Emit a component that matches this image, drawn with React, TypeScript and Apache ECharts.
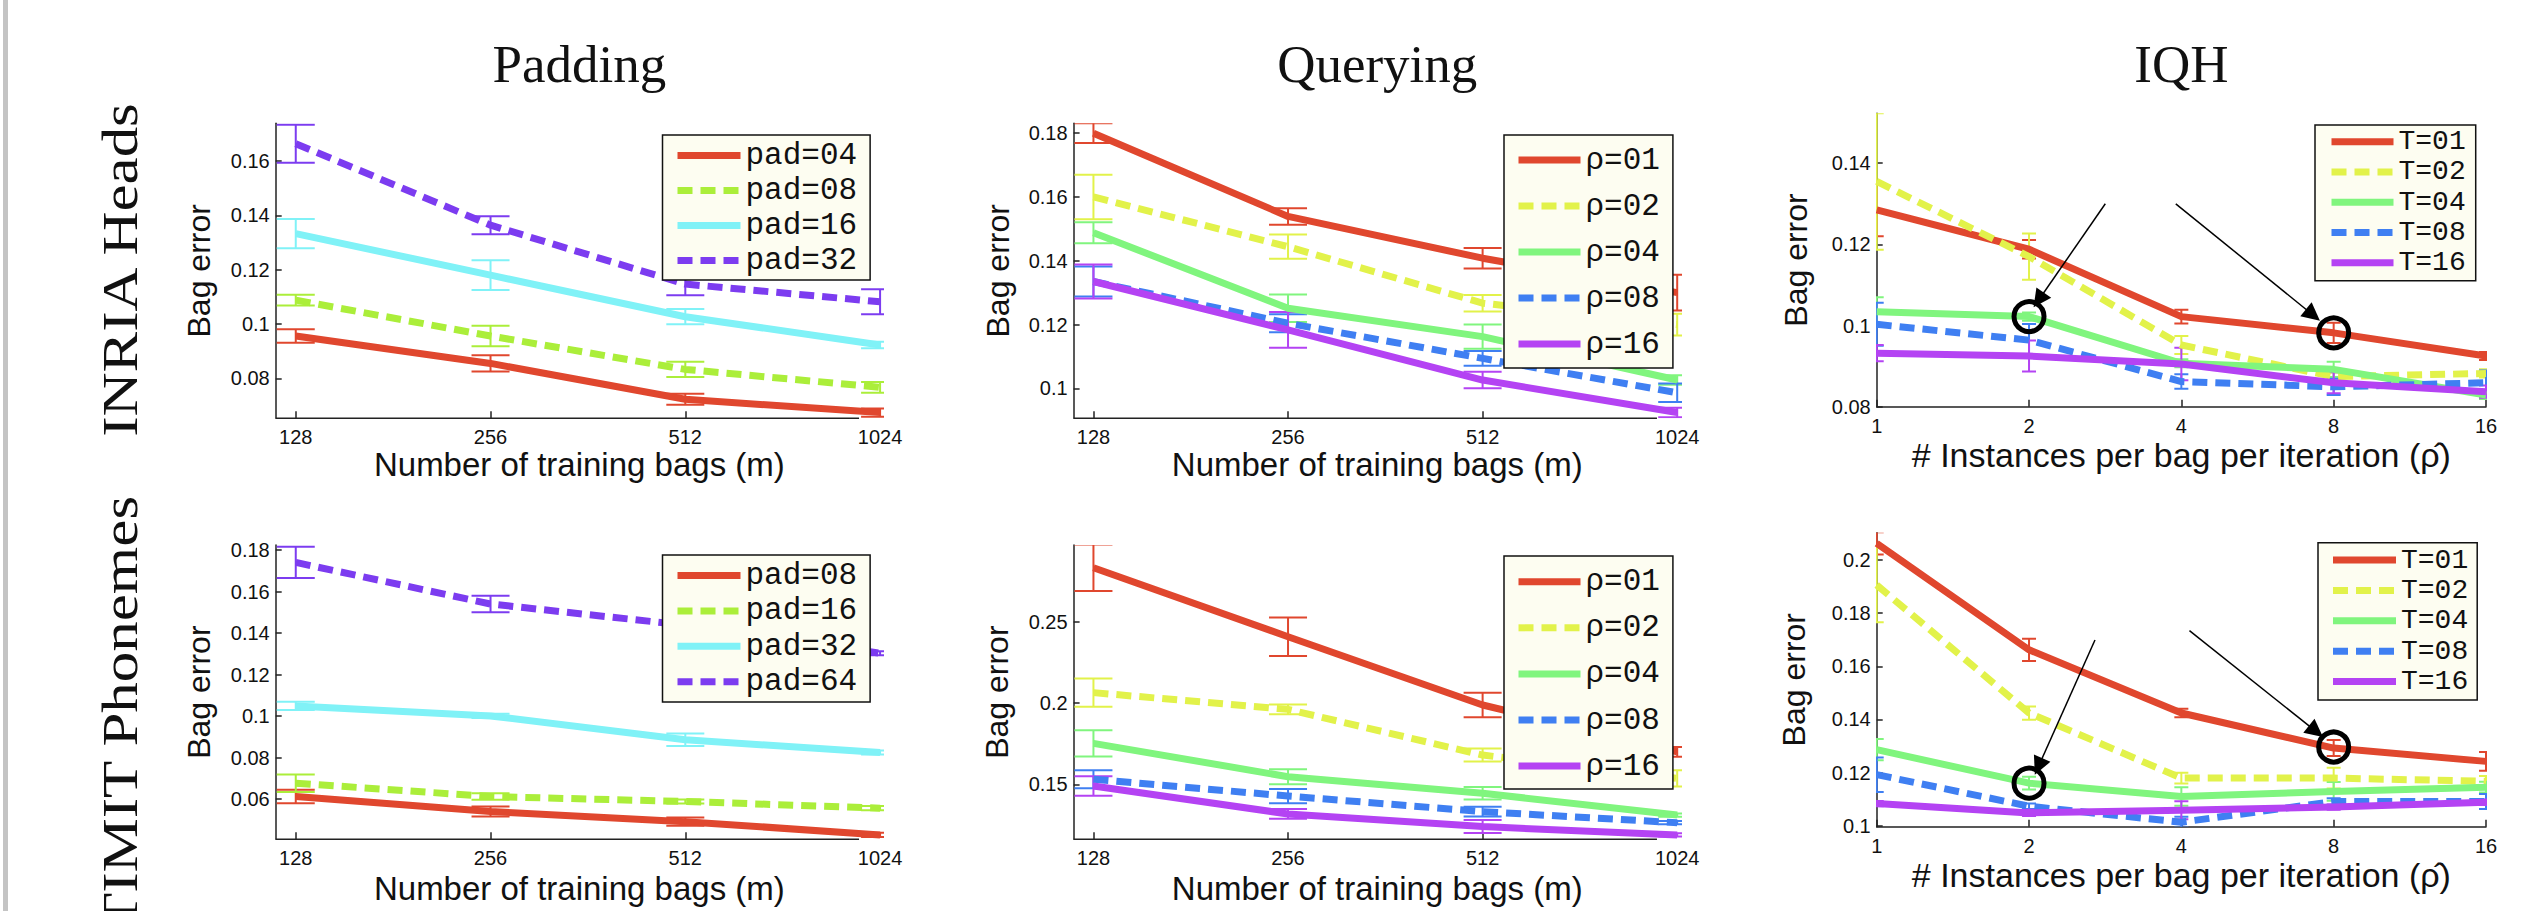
import React, { useEffect, useRef } from 'react';
import * as echarts from 'echarts';

// ---------------- x categories ----------------
const M_VALUES = [128, 256, 512, 1024];
const RHO_HAT_VALUES = [1, 2, 4, 8, 16];

// ---------------- Padding / INRIA Heads ----------------
const PAD_INRIA_NAMES = ['pad=04', 'pad=08', 'pad=16', 'pad=32'];
const PAD_INRIA_MEAN = [
  [0.0956, 0.0855, 0.0723, 0.0674],
  [0.1088, 0.0956, 0.0833, 0.0767],
  [0.1333, 0.118, 0.1027, 0.0923],
  [0.1664, 0.1364, 0.1147, 0.1082],
];
const PAD_INRIA_ERR = [
  [0.0025, 0.003, 0.002, 0.0015],
  [0.002, 0.0038, 0.0028, 0.002],
  [0.0054, 0.0055, 0.0028, 0.0012],
  [0.007, 0.0033, 0.0041, 0.0046],
];
const PAD_INRIA_YTICKS = [0.08, 0.1, 0.12, 0.14, 0.16];

// ---------------- Querying / INRIA Heads ----------------
const QRY_INRIA_NAMES = ['ρ=01', 'ρ=02', 'ρ=04', 'ρ=08', 'ρ=16'];
const QRY_INRIA_MEAN = [
  [0.18, 0.1539, 0.1408, 0.13],
  [0.16, 0.1444, 0.1267, 0.12],
  [0.1488, 0.1251, 0.1162, 0.1026],
  [0.1335, 0.1204, 0.1094, 0.0986],
  [0.1335, 0.1183, 0.1026, 0.0924],
];
const QRY_INRIA_ERR = [
  [0.0031, 0.0026, 0.0032, 0.0056],
  [0.007, 0.0038, 0.0026, 0.0034],
  [0.0033, 0.0043, 0.0038, 0.0015],
  [0.0047, 0.0028, 0.0023, 0.0029],
  [0.0053, 0.0056, 0.0026, 0.0015],
];
const QRY_INRIA_YTICKS = [0.1, 0.12, 0.14, 0.16, 0.18];

// ---------------- IQH / INRIA Heads ----------------
const IQH_INRIA_NAMES = ['T=01', 'T=02', 'T=04', 'T=08', 'T=16'];
const IQH_INRIA_MEAN = [
  [0.1285, 0.1188, 0.1022, 0.0982, 0.0925],
  [0.1355, 0.117, 0.0952, 0.0874, 0.0882],
  [0.1034, 0.1022, 0.0907, 0.0892, 0.0829],
  [0.1003, 0.0964, 0.0862, 0.0849, 0.0859],
  [0.0932, 0.0925, 0.0905, 0.0859, 0.0837],
];
const IQH_INRIA_ERR = [
  [0.0065, 0.0023, 0.0017, 0.0025, 0.001],
  [0.0168, 0.0057, 0.0022, 0.001, 0.001],
  [0.0036, 0.001, 0.001, 0.0019, 0.001],
  [0.0053, 0.004, 0.0018, 0.002, 0.003],
  [0.002, 0.0038, 0.004, 0.0026, 0.0015],
];
const IQH_INRIA_YTICKS = [0.08, 0.1, 0.12, 0.14];
const IQH_INRIA_CIRCLES = [[2, 0.1022], [8, 0.0982]];
const IQH_INRIA_ARROWS = [
  [[2.83, 0.13], [2.09, 0.1063]],
  [[3.9, 0.13], [7.28, 0.1026]],
];

// ---------------- Padding / TIMIT Phonemes ----------------
const PAD_TIMIT_NAMES = ['pad=08', 'pad=16', 'pad=32', 'pad=64'];
const PAD_TIMIT_MEAN = [
  [0.0613, 0.0541, 0.0492, 0.0428],
  [0.0677, 0.0613, 0.0589, 0.0557],
  [0.1049, 0.1001, 0.0886, 0.0825],
  [0.174, 0.154, 0.1438, 0.1303],
];
const PAD_TIMIT_ERR = [
  [0.0033, 0.0024, 0.002, 0.001],
  [0.0042, 0.0016, 0.001, 0.001],
  [0.002, 0.001, 0.003, 0.001],
  [0.0075, 0.004, 0.003, 0.001],
];
const PAD_TIMIT_YTICKS = [0.06, 0.08, 0.1, 0.12, 0.14, 0.16, 0.18];

// ---------------- Querying / TIMIT Phonemes ----------------
const QRY_TIMIT_NAMES = ['ρ=01', 'ρ=02', 'ρ=04', 'ρ=08', 'ρ=16'];
const QRY_TIMIT_MEAN = [
  [0.2832, 0.2408, 0.1988, 0.17],
  [0.2064, 0.1961, 0.168, 0.1537],
  [0.1752, 0.1547, 0.1445, 0.1311],
  [0.1531, 0.1428, 0.1332, 0.1264],
  [0.149, 0.1318, 0.124, 0.1189],
];
const QRY_TIMIT_ERR = [
  [0.0143, 0.0118, 0.0075, 0.003],
  [0.0087, 0.003, 0.004, 0.005],
  [0.008, 0.0046, 0.0038, 0.001],
  [0.0055, 0.0044, 0.003, 0.001],
  [0.006, 0.003, 0.004, 0.001],
];
const QRY_TIMIT_YTICKS = [0.15, 0.2, 0.25];

// ---------------- IQH / TIMIT Phonemes ----------------
const IQH_TIMIT_NAMES = ['T=01', 'T=02', 'T=04', 'T=08', 'T=16'];
const IQH_TIMIT_MEAN = [
  [0.2063, 0.1662, 0.1424, 0.1292, 0.1242],
  [0.1906, 0.1424, 0.1179, 0.1179, 0.1167],
  [0.1286, 0.116, 0.111, 0.1129, 0.1145],
  [0.1192, 0.1073, 0.1013, 0.1091, 0.1091],
  [0.1083, 0.1048, 0.1058, 0.107, 0.1088],
];
const IQH_TIMIT_ERR = [
  [0.0042, 0.0042, 0.0016, 0.003, 0.0035],
  [0.014, 0.0025, 0.002, 0.0039, 0.002],
  [0.004, 0.0024, 0.0035, 0.0035, 0.002],
  [0.0065, 0.001, 0.002, 0.0012, 0.0028],
  [0.001, 0.0012, 0.0034, 0.001, 0.001],
];
const IQH_TIMIT_YTICKS = [0.1, 0.12, 0.14, 0.16, 0.18, 0.2];
const IQH_TIMIT_CIRCLES = [[2, 0.116], [8, 0.1296]];
const IQH_TIMIT_ARROWS = [
  [[2.7, 0.1699], [2.088, 0.1223]],
  [[4.15, 0.1734], [7.38, 0.1355]],
];

// ---------------- text ----------------
const COLUMN_TITLES = ['Padding', 'Querying', 'IQH'];
const ROW_TITLES = ['INRIA Heads', 'TIMIT Phonemes'];
const X_NAME_M = 'Number of training bags (m)';
const X_NAME_RHO = '# Instances per bag per iteration (\u03C1\u0302)';
const Y_NAME = 'Bag error';

// ---------------- styles ----------------
const RED = '#e0472e';
const LIME = '#abee3a';
const CYAN = '#80f2f7';
const VIOLET = '#7c3cf0';
const YELLOW = '#e2f24a';
const GREEN = '#80f57e';
const BLUE = '#3f7ff2';
const PURPLE = '#b443f3';
const AXIS = '#222222';
const SANS = '"Liberation Sans", Arial, Helvetica, sans-serif';
const SERIF = '"Liberation Serif", "Times New Roman", serif';
const MONO = '"Liberation Mono", "Courier New", monospace';
const DASH = [15, 8];

const PAD_STYLE = [
  { color: RED, dashed: false },
  { color: LIME, dashed: true },
  { color: CYAN, dashed: false },
  { color: VIOLET, dashed: true },
];
const FIVE_STYLE = [
  { color: RED, dashed: false },
  { color: YELLOW, dashed: true },
  { color: GREEN, dashed: false },
  { color: BLUE, dashed: true },
  { color: PURPLE, dashed: false },
];

const log2 = (v: number) => Math.log(v) / Math.LN2;

type Panel = {
  key: string;
  left: number; top: number; width: number; height: number;
  xMin: number; xMax: number; xAxisEnd: number | null;
  xValues: number[]; xTickValues: number[];
  yMin: number; yMax: number; yTicks: number[];
  names: string[]; means: number[][]; errs: number[][];
  styles: { color: string; dashed: boolean }[];
  cap: number;
  xName: string; xNameSize: number; xNameGap: number; yNameGap: number;
  legend: { left: number; top: number; padding: number[]; fontSize: number; lineHeight: number; itemGap: number; itemWidth: number };
  circles?: number[][]; arrows?: number[][][];
};

const PANELS: Panel[] = [
  {
    key: 'a', left: 275.7, top: 123.3, width: 607.3, height: 295,
    xMin: 6.897, xMax: 10.015, xAxisEnd: 9.892,
    xValues: M_VALUES, xTickValues: M_VALUES.slice(0, 3),
    yMin: 0.0653, yMax: 0.1739, yTicks: PAD_INRIA_YTICKS,
    names: PAD_INRIA_NAMES, means: PAD_INRIA_MEAN, errs: PAD_INRIA_ERR, styles: PAD_STYLE, cap: 19,
    xName: X_NAME_M, xNameSize: 33, xNameGap: 29, yNameGap: 61,
    legend: { left: 662.5, top: 135, padding: [5, 13, 4, 11.5], fontSize: 31, lineHeight: 30, itemGap: 4, itemWidth: 63 },
  },
  {
    key: 'b', left: 1073.6, top: 123.3, width: 607.3, height: 295,
    xMin: 6.898, xMax: 10.019, xAxisEnd: 9.896,
    xValues: M_VALUES, xTickValues: M_VALUES.slice(0, 3),
    yMin: 0.0906, yMax: 0.1831, yTicks: QRY_INRIA_YTICKS,
    names: QRY_INRIA_NAMES, means: QRY_INRIA_MEAN, errs: QRY_INRIA_ERR, styles: FIVE_STYLE, cap: 19,
    xName: X_NAME_M, xNameSize: 33, xNameGap: 29, yNameGap: 60,
    legend: { left: 1504, top: 135, padding: [8, 13, 7, 11], fontSize: 31, lineHeight: 34, itemGap: 12, itemWidth: 62 },
  },
  {
    key: 'c', left: 1876.7, top: 113.3, width: 609.3, height: 293.4,
    xMin: 0, xMax: 4, xAxisEnd: null,
    xValues: RHO_HAT_VALUES, xTickValues: RHO_HAT_VALUES,
    yMin: 0.08, yMax: 0.1523, yTicks: IQH_INRIA_YTICKS,
    names: IQH_INRIA_NAMES, means: IQH_INRIA_MEAN, errs: IQH_INRIA_ERR, styles: FIVE_STYLE, cap: 7,
    xName: X_NAME_RHO, xNameSize: 34, xNameGap: 31, yNameGap: 65,
    legend: { left: 2315, top: 125, padding: [2.7, 10, 4, 13], fontSize: 28, lineHeight: 28, itemGap: 2.25, itemWidth: 62 },
    circles: IQH_INRIA_CIRCLES, arrows: IQH_INRIA_ARROWS,
  },
  {
    key: 'd', left: 275.7, top: 545, width: 607.3, height: 294.3,
    xMin: 6.897, xMax: 10.015, xAxisEnd: 9.892,
    xValues: M_VALUES, xTickValues: M_VALUES.slice(0, 3),
    yMin: 0.0407, yMax: 0.1824, yTicks: PAD_TIMIT_YTICKS,
    names: PAD_TIMIT_NAMES, means: PAD_TIMIT_MEAN, errs: PAD_TIMIT_ERR, styles: PAD_STYLE, cap: 19,
    xName: X_NAME_M, xNameSize: 33, xNameGap: 33, yNameGap: 61,
    legend: { left: 662.5, top: 555, padding: [5, 13, 4.8, 11.5], fontSize: 31, lineHeight: 30, itemGap: 4.4, itemWidth: 63 },
  },
  {
    key: 'e', left: 1073.6, top: 545, width: 607.3, height: 294.3,
    xMin: 6.898, xMax: 10.019, xAxisEnd: 9.896,
    xValues: M_VALUES, xTickValues: M_VALUES.slice(0, 3),
    yMin: 0.1162, yMax: 0.2972, yTicks: QRY_TIMIT_YTICKS,
    names: QRY_TIMIT_NAMES, means: QRY_TIMIT_MEAN, errs: QRY_TIMIT_ERR, styles: FIVE_STYLE, cap: 19,
    xName: X_NAME_M, xNameSize: 33, xNameGap: 33, yNameGap: 61,
    legend: { left: 1504, top: 556, padding: [8.7, 13, 5.9, 11], fontSize: 31, lineHeight: 34, itemGap: 12.1, itemWidth: 62 },
  },
  {
    key: 'f', left: 1876.7, top: 532.7, width: 609.3, height: 294,
    xMin: 0, xMax: 4, xAxisEnd: null,
    xValues: RHO_HAT_VALUES, xTickValues: RHO_HAT_VALUES,
    yMin: 0.0996, yMax: 0.2103, yTicks: IQH_TIMIT_YTICKS,
    names: IQH_TIMIT_NAMES, means: IQH_TIMIT_MEAN, errs: IQH_TIMIT_ERR, styles: FIVE_STYLE, cap: 7,
    xName: X_NAME_RHO, xNameSize: 34, xNameGap: 31, yNameGap: 67,
    legend: { left: 2318, top: 542.7, padding: [3.3, 9, 4.4, 11.5], fontSize: 28, lineHeight: 28, itemGap: 2.4, itemWidth: 63 },
    circles: IQH_TIMIT_CIRCLES, arrows: IQH_TIMIT_ARROWS,
  },
];

const fmtY = (v: number) => String(parseFloat(v.toFixed(3)));

function buildOption() {
  const grid: any[] = [];
  const xAxis: any[] = [];
  const yAxis: any[] = [];
  const series: any[] = [];
  const legend: any[] = [];
  const axisLineStyle = { color: AXIS, width: 1.5 };

  PANELS.forEach((p, i) => {
    grid.push({ left: p.left, top: p.top, width: p.width, height: p.height, containLabel: false, outerBoundsMode: 'none' });
    xAxis.push({
      type: 'value', gridIndex: i, min: p.xMin, max: p.xMax,
      axisLine: { show: p.xAxisEnd === null, lineStyle: axisLineStyle },
      axisTick: { show: true, inside: true, length: 7, customValues: p.xTickValues.map(log2), lineStyle: axisLineStyle },
      axisLabel: {
        customValues: p.xValues.map(log2),
        formatter: (v: number) => String(Math.round(Math.pow(2, v))),
        fontFamily: SANS, fontSize: 20, color: '#111', margin: 9,
      },
      splitLine: { show: false },
      name: p.xName, nameLocation: 'middle', nameGap: p.xNameGap,
      nameTextStyle: { fontFamily: SANS, fontSize: p.xNameSize, lineHeight: p.xNameSize, color: '#111' },
    });
    yAxis.push({
      type: 'value', gridIndex: i, min: p.yMin, max: p.yMax,
      axisLine: { show: true, lineStyle: axisLineStyle },
      axisTick: { show: true, inside: true, length: 6, customValues: p.yTicks, lineStyle: axisLineStyle },
      axisLabel: { customValues: p.yTicks, formatter: fmtY, fontFamily: SANS, fontSize: 20, color: '#111', margin: 6 },
      splitLine: { show: false },
      name: Y_NAME, nameLocation: 'middle', nameRotate: 90, nameGap: p.yNameGap,
      nameTextStyle: { fontFamily: SANS, fontSize: 32, lineHeight: 32, color: '#111' },
    });

    if (p.xAxisEnd !== null) {
      series.push({
        type: 'line', name: `${p.key}|axis`, xAxisIndex: i, yAxisIndex: i,
        data: [[p.xMin, p.yMin], [p.xAxisEnd, p.yMin]],
        symbol: 'none', clip: false, silent: true,
        lineStyle: { color: AXIS, width: 1.5 },
      });
    }

    const xs = p.xValues.map(log2);
    const legendNames: string[] = [];
    p.names.forEach((name, k) => {
      const st = p.styles[k];
      const uid = `${p.key}|${name}`;
      legendNames.push(uid);
      const lineSeries: any = {
        type: 'line', name: uid, xAxisIndex: i, yAxisIndex: i,
        data: xs.map((x, j) => [x, p.means[k][j]]),
        symbol: 'none', silent: true,
        lineStyle: { color: st.color, width: 7, type: st.dashed ? DASH : 'solid', join: 'round' },
        itemStyle: { color: st.color },
        emphasis: { disabled: true },
      };
      if (k === 0 && p.circles && p.arrows) {
        lineSeries.markPoint = {
          silent: true,
          symbol: 'circle', symbolSize: 30,
          itemStyle: { color: 'rgba(0,0,0,0)', borderColor: '#000', borderWidth: 5 },
          label: { show: false },
          data: p.circles.map((c) => ({ coord: [log2(c[0]), c[1]] })),
        };
        lineSeries.markLine = {
          silent: true,
          symbol: ['none', 'triangle'], symbolSize: 18,
          lineStyle: { color: '#000', width: 1.5, type: 'solid' },
          itemStyle: { color: '#000' },
          label: { show: false },
          emphasis: { disabled: true },
          data: p.arrows.map((a) => [
            { coord: [log2(a[0][0]), a[0][1]] },
            { coord: [log2(a[1][0]), a[1][1]] },
          ]),
        };
      }
      series.push(lineSeries);
      series.push({
        type: 'custom', name: `${uid}|err`, xAxisIndex: i, yAxisIndex: i, clip: true, silent: true,
        data: xs.map((x, j) => [x, p.means[k][j], p.errs[k][j]]),
        renderItem: (_params: any, api: any) => {
          const x = api.value(0);
          const y = api.value(1);
          const e = api.value(2);
          const hi = api.coord([x, y + e]);
          const lo = api.coord([x, y - e]);
          const style = { stroke: st.color, lineWidth: 2, fill: null };
          const c = p.cap;
          return {
            type: 'group',
            children: [
              { type: 'line', shape: { x1: hi[0], y1: hi[1], x2: lo[0], y2: lo[1] }, style },
              { type: 'line', shape: { x1: hi[0] - c, y1: hi[1], x2: hi[0] + c, y2: hi[1] }, style },
              { type: 'line', shape: { x1: lo[0] - c, y1: lo[1], x2: lo[0] + c, y2: lo[1] }, style },
            ],
          };
        },
      });
    });

    legend.push({
      orient: 'vertical', left: p.legend.left, top: p.legend.top,
      padding: p.legend.padding,
      itemWidth: p.legend.itemWidth, itemHeight: 14, itemGap: p.legend.itemGap,
      backgroundColor: '#fdfdf1', borderColor: '#111', borderWidth: 1.5, borderRadius: 0,
      selectedMode: false,
      data: legendNames,
      formatter: (n: string) => n.split('|')[1],
      itemStyle: { opacity: 0 },
      lineStyle: { width: 7 },
      textStyle: { fontFamily: MONO, fontSize: p.legend.fontSize, lineHeight: p.legend.lineHeight, color: '#111' },
    });
  });

  const graphic: any[] = [
    { type: 'rect', shape: { x: 3, y: 0, width: 5, height: 911 }, style: { fill: '#c4c4c4' }, silent: true },
  ];
  COLUMN_TITLES.forEach((t, c) => {
    const p = PANELS[c];
    graphic.push({
      type: 'text', x: p.left + p.width / 2, y: 64, silent: true,
      style: { text: t, fontFamily: SERIF, fontSize: 53, fill: '#111', align: 'center', verticalAlign: 'middle' },
    });
  });
  const rowCenters = [270, 713];
  ROW_TITLES.forEach((t, r) => {
    graphic.push({
      type: 'text', x: 120, y: rowCenters[r], rotation: Math.PI / 2, scaleX: 1.22, silent: true,
      style: { text: t, fontFamily: SERIF, fontSize: 50, fill: '#111', align: 'center', verticalAlign: 'middle' },
    });
  });

  return {
    animation: false,
    backgroundColor: '#ffffff',
    grid, xAxis, yAxis, series, legend, graphic,
    tooltip: { show: false },
  };
}

export default function App() {
  const ref = useRef<HTMLDivElement | null>(null);
  useEffect(() => {
    document.body.style.margin = '0';
    if (!ref.current) return;
    const chart = echarts.init(ref.current, null, { renderer: 'svg' });
    chart.setOption(buildOption() as any);
    return () => chart.dispose();
  }, []);
  return <div ref={ref} style={{ width: 2545, height: 911 }} />;
}
